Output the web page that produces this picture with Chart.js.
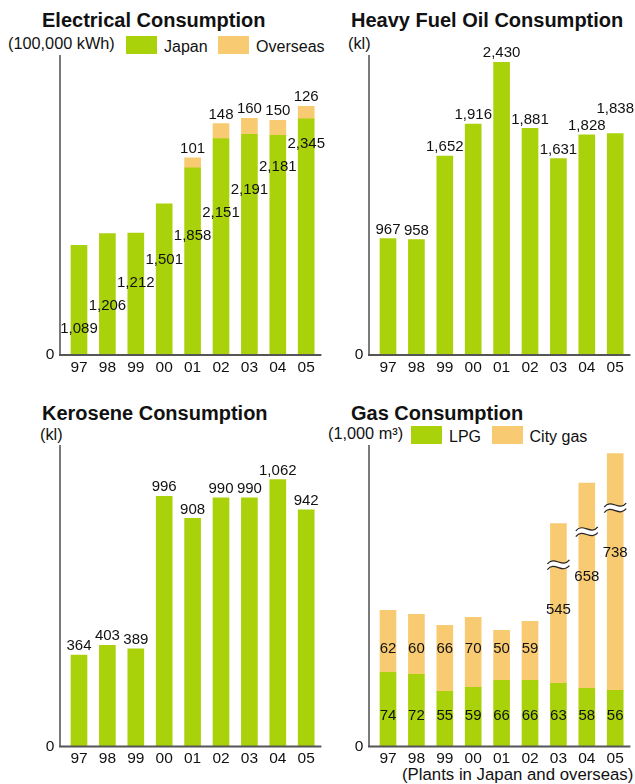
<!DOCTYPE html>
<html>
<head>
<meta charset="utf-8">
<script src="https://cdn.jsdelivr.net/npm/chart.js@4.4.0/dist/chart.umd.min.js"></script>
<style>
  body { margin: 0; width: 635px; height: 784px; position: relative; overflow: hidden; background: #fff;
         font-family: "Liberation Sans", Arial, sans-serif; color: #111; }
  .t { position: absolute; white-space: nowrap; line-height: 1; }
  .title { font-weight: bold; font-size: 20px; }
  .unit { font-size: 16.3px; }
  .note { font-size: 16.8px; }
  .legend { position: absolute; height: 18px; display: flex; align-items: center; line-height: 1; font-size: 16px; }
  .legend .box { width: 31px; height: 18px; margin-right: 7px; }
  .legend .txt { margin-right: 10.5px; position: relative; top: 1.5px; }
  canvas { position: absolute; }
</style>
</head>
<body>
<div class="t title" style="left:42px; top:10px">Electrical Consumption</div>
<div class="t unit" style="left:8px; top:35px">(100,000 kWh)</div>
<div class="legend" id="legElec" style="left:126px; top:36px"></div>

<div class="t title" style="left:351px; top:10px">Heavy Fuel Oil Consumption</div>
<div class="t unit" style="left:348px; top:35px">(kl)</div>

<div class="t title" style="left:42px; top:402.5px">Kerosene Consumption</div>
<div class="t unit" style="left:40px; top:425.5px">(kl)</div>

<div class="t title" style="left:351px; top:402.5px">Gas Consumption</div>
<div class="t unit" style="left:328px; top:425px">(1,000 m³)</div>
<div class="legend" id="legGas" style="left:411px; top:426px"></div>
<div class="t note" style="left:402px; top:767px">(Plants in Japan and overseas)</div>

<canvas id="elec" width="330" height="392" style="left:0; top:0"></canvas>
<canvas id="oil" width="300" height="392" style="left:335px; top:0"></canvas>
<canvas id="kero" width="330" height="392" style="left:0; top:392px"></canvas>
<canvas id="gas" width="300" height="392" style="left:335px; top:392px"></canvas>

<script>
// fiscal years
const years = ['97', '98', '99', '00', '01', '02', '03', '04', '05'];

// electricity, 100,000 kWh
const elecJapan = [1089, 1206, 1212, 1501, 1858, 2151, 2191, 2181, 2345];
const elecOverseas = [null, null, null, null, 101, 148, 160, 150, 126];

// heavy fuel oil, kl
const heavyOil = [967, 958, 1652, 1916, 2430, 1881, 1631, 1828, 1838];

// kerosene, kl
const kerosene = [364, 403, 389, 996, 908, 990, 990, 1062, 942];

// gas, 1,000 m3
const gasLPG = [74, 72, 55, 59, 66, 66, 63, 58, 56];
const gasCity = [62, 60, 66, 70, 50, 59, 545, 658, 738];

const GREEN = '#aad20a';
const ORANGE = '#f8cb72';
const FONT = '"Liberation Sans", Arial, sans-serif';

// gas axis is broken: 1:1 up to 150, then squeezed so the big city gas years fit
const BREAK_LO = 150, BREAK_HI = 600;
function squeeze(v) {
  if (v <= BREAK_LO) return v;
  if (v <= BREAK_HI) return BREAK_LO + (v - BREAK_LO) * 0.1544;
  return BREAK_LO + (BREAK_HI - BREAK_LO) * 0.1544 + (v - BREAK_HI) * 0.375;
}

class BrokenScale extends Chart.LinearScale {
  static id = 'broken';
  static defaults = Chart.LinearScale.defaults;
  getPixelForValue(v) {
    return super.getPixelForValue(v == null ? v : squeeze(v));
  }
}
Chart.register(BrokenScale);

// y axis line just left of the first bar, baseline across
const axisLines = {
  id: 'axisLines',
  afterDatasetsDraw(chart) {
    const { ctx, chartArea: a } = chart;
    const x0 = a.left - 4.8;
    ctx.save();
    ctx.lineWidth = 2;
    ctx.strokeStyle = '#7a7a7a';
    ctx.beginPath(); ctx.moveTo(x0, a.top); ctx.lineTo(x0, a.bottom); ctx.stroke();
    ctx.strokeStyle = '#555';
    ctx.beginPath(); ctx.moveTo(x0 - 1, a.bottom); ctx.lineTo(a.right + 1, a.bottom); ctx.stroke();
    ctx.restore();
  }
};

function stackTotal(chart, i) {
  return chart.data.datasets.reduce((s, ds) => s + (ds.data[i] || 0), 0);
}
function isBroken(chart, i) {
  return chart.options.scales.y.type === 'broken' && stackTotal(chart, i) > BREAK_LO;
}
function breakY(chart, i) {
  const bars = chart.getDatasetMeta(chart.data.datasets.length - 1).data;
  const bottom = chart.chartArea.bottom;
  return bottom - 0.815 * (bottom - bars[i].y);
}

// the little "≈" across the squeezed bars
const breakMarks = {
  id: 'breakMarks',
  afterDatasetsDraw(chart) {
    if (chart.options.scales.y.type !== 'broken') return;
    const ctx = chart.ctx;
    const bars = chart.getDatasetMeta(0).data;
    ctx.save();
    bars.forEach((bar, i) => {
      if (!isBroken(chart, i)) return;
      const x = bar.x, y = breakY(chart, i), h = 11;
      const wave = (dy, rev) => {
        if (!rev) {
          ctx.moveTo(x - h, y + dy + 2);
          ctx.bezierCurveTo(x - 4, y + dy - 7, x + 4, y + dy + 7, x + h, y + dy - 2);
        } else {
          ctx.lineTo(x + h, y + dy - 2);
          ctx.bezierCurveTo(x + 4, y + dy + 7, x - 4, y + dy - 7, x - h, y + dy + 2);
        }
      };
      ctx.beginPath(); wave(-2.8, false); wave(2.8, true); ctx.closePath();
      ctx.fillStyle = '#fff'; ctx.fill();
      ctx.strokeStyle = '#222'; ctx.lineWidth = 1.2;
      ctx.beginPath(); wave(-2.8, false); ctx.stroke();
      ctx.beginPath(); wave(2.8, false); ctx.stroke();
    });
    ctx.restore();
  }
};

// value labels; each dataset says how its labels sit
const valueLabels = {
  id: 'valueLabels',
  afterDatasetsDraw(chart) {
    const { ctx, chartArea } = chart;
    ctx.save();
    ctx.font = `15px ${FONT}`;
    ctx.fillStyle = '#111';
    ctx.textAlign = 'center';
    ctx.textBaseline = 'middle';
    chart.data.datasets.forEach((ds, di) => {
      const bars = chart.getDatasetMeta(di).data;
      let prev = null;
      ds.data.forEach((v, i) => {
        if (v == null) return;
        const bar = bars[i];
        const text = v.toLocaleString('en-US');
        const w = ctx.measureText(text).width;
        let y;
        if (ds.labelMode === 'stair') {
          y = chartArea.bottom - 26 - i * 23.2;
        } else if (ds.labelMode === 'lowRow') {
          y = chartArea.bottom - 31;
        } else if (ds.labelMode === 'highRow') {
          y = isBroken(chart, i) ? breakY(chart, i) + 45 : chartArea.bottom - 98;
        } else {
          y = bar.y - 9;
          // step up when it would collide with the neighbour's label
          if (prev && Math.abs(prev.y - y) < 14 && bar.x - w / 2 < prev.right) y = prev.y - 17;
        }
        ctx.fillText(text, bar.x, y);
        prev = { y, right: bar.x + w / 2 };
      });
    });
    ctx.restore();
  }
};

function makeChart(id, datasets, o) {
  return new Chart(document.getElementById(id), {
    type: 'bar',
    data: { labels: years, datasets },
    options: {
      responsive: false,
      animation: false,
      devicePixelRatio: 1,
      layout: { padding: { top: o.top, right: o.right, left: 0, bottom: 0 } },
      datasets: { bar: { barThickness: 16 } },
      plugins: { legend: { display: false }, tooltip: { enabled: false } },
      scales: {
        x: {
          stacked: true,
          grid: { display: false, drawTicks: false },
          border: { display: false },
          ticks: { color: '#111', font: { family: FONT, size: 15.5 }, padding: 3, maxRotation: 0, autoSkip: false },
          afterFit: s => { s.height = o.xHeight; }
        },
        y: {
          type: o.yType || 'linear',
          stacked: true,
          min: 0,
          max: o.max,
          grid: { display: false, drawTicks: false },
          border: { display: false },
          ticks: { color: '#111', font: { family: FONT, size: 15.5 }, padding: 10.5 },
          afterBuildTicks: s => { s.ticks = [{ value: 0 }]; },
          afterFit: s => { s.width = o.yWidth; }
        }
      }
    },
    plugins: [axisLines, breakMarks, valueLabels]
  });
}

function buildLegend(elId, datasets) {
  const el = document.getElementById(elId);
  datasets.forEach(ds => {
    const box = document.createElement('span');
    box.className = 'box';
    box.style.background = ds.backgroundColor;
    const txt = document.createElement('span');
    txt.className = 'txt';
    txt.textContent = ds.label;
    el.append(box, txt);
  });
}

const elecSets = [
  { label: 'Japan', data: elecJapan, backgroundColor: GREEN, labelMode: 'stair' },
  { label: 'Overseas', data: elecOverseas, backgroundColor: ORANGE, labelMode: 'above' }
];
makeChart('elec', elecSets, { top: 55, right: 9.6, yWidth: 64.8, xHeight: 37, max: 2980 });
buildLegend('legElec', elecSets);

makeChart('oil', [
  { label: 'Heavy fuel oil', data: heavyOil, backgroundColor: GREEN, labelMode: 'above' }
], { top: 55, right: 5.6, yWidth: 38.8, xHeight: 37, max: 2490 });

makeChart('kero', [
  { label: 'Kerosene', data: kerosene, backgroundColor: GREEN, labelMode: 'above' }
], { top: 53, right: 9.6, yWidth: 64.8, xHeight: 37.5, max: 1200 });

const gasSets = [
  { label: 'LPG', data: gasLPG, backgroundColor: GREEN, labelMode: 'lowRow' },
  { label: 'City gas', data: gasCity, backgroundColor: ORANGE, labelMode: 'highRow' }
];
makeChart('gas', gasSets, { top: 53, right: 5.6, yWidth: 38.8, xHeight: 37.5, max: squeeze(817), yType: 'broken' });
buildLegend('legGas', gasSets);
</script>
</body>
</html>
